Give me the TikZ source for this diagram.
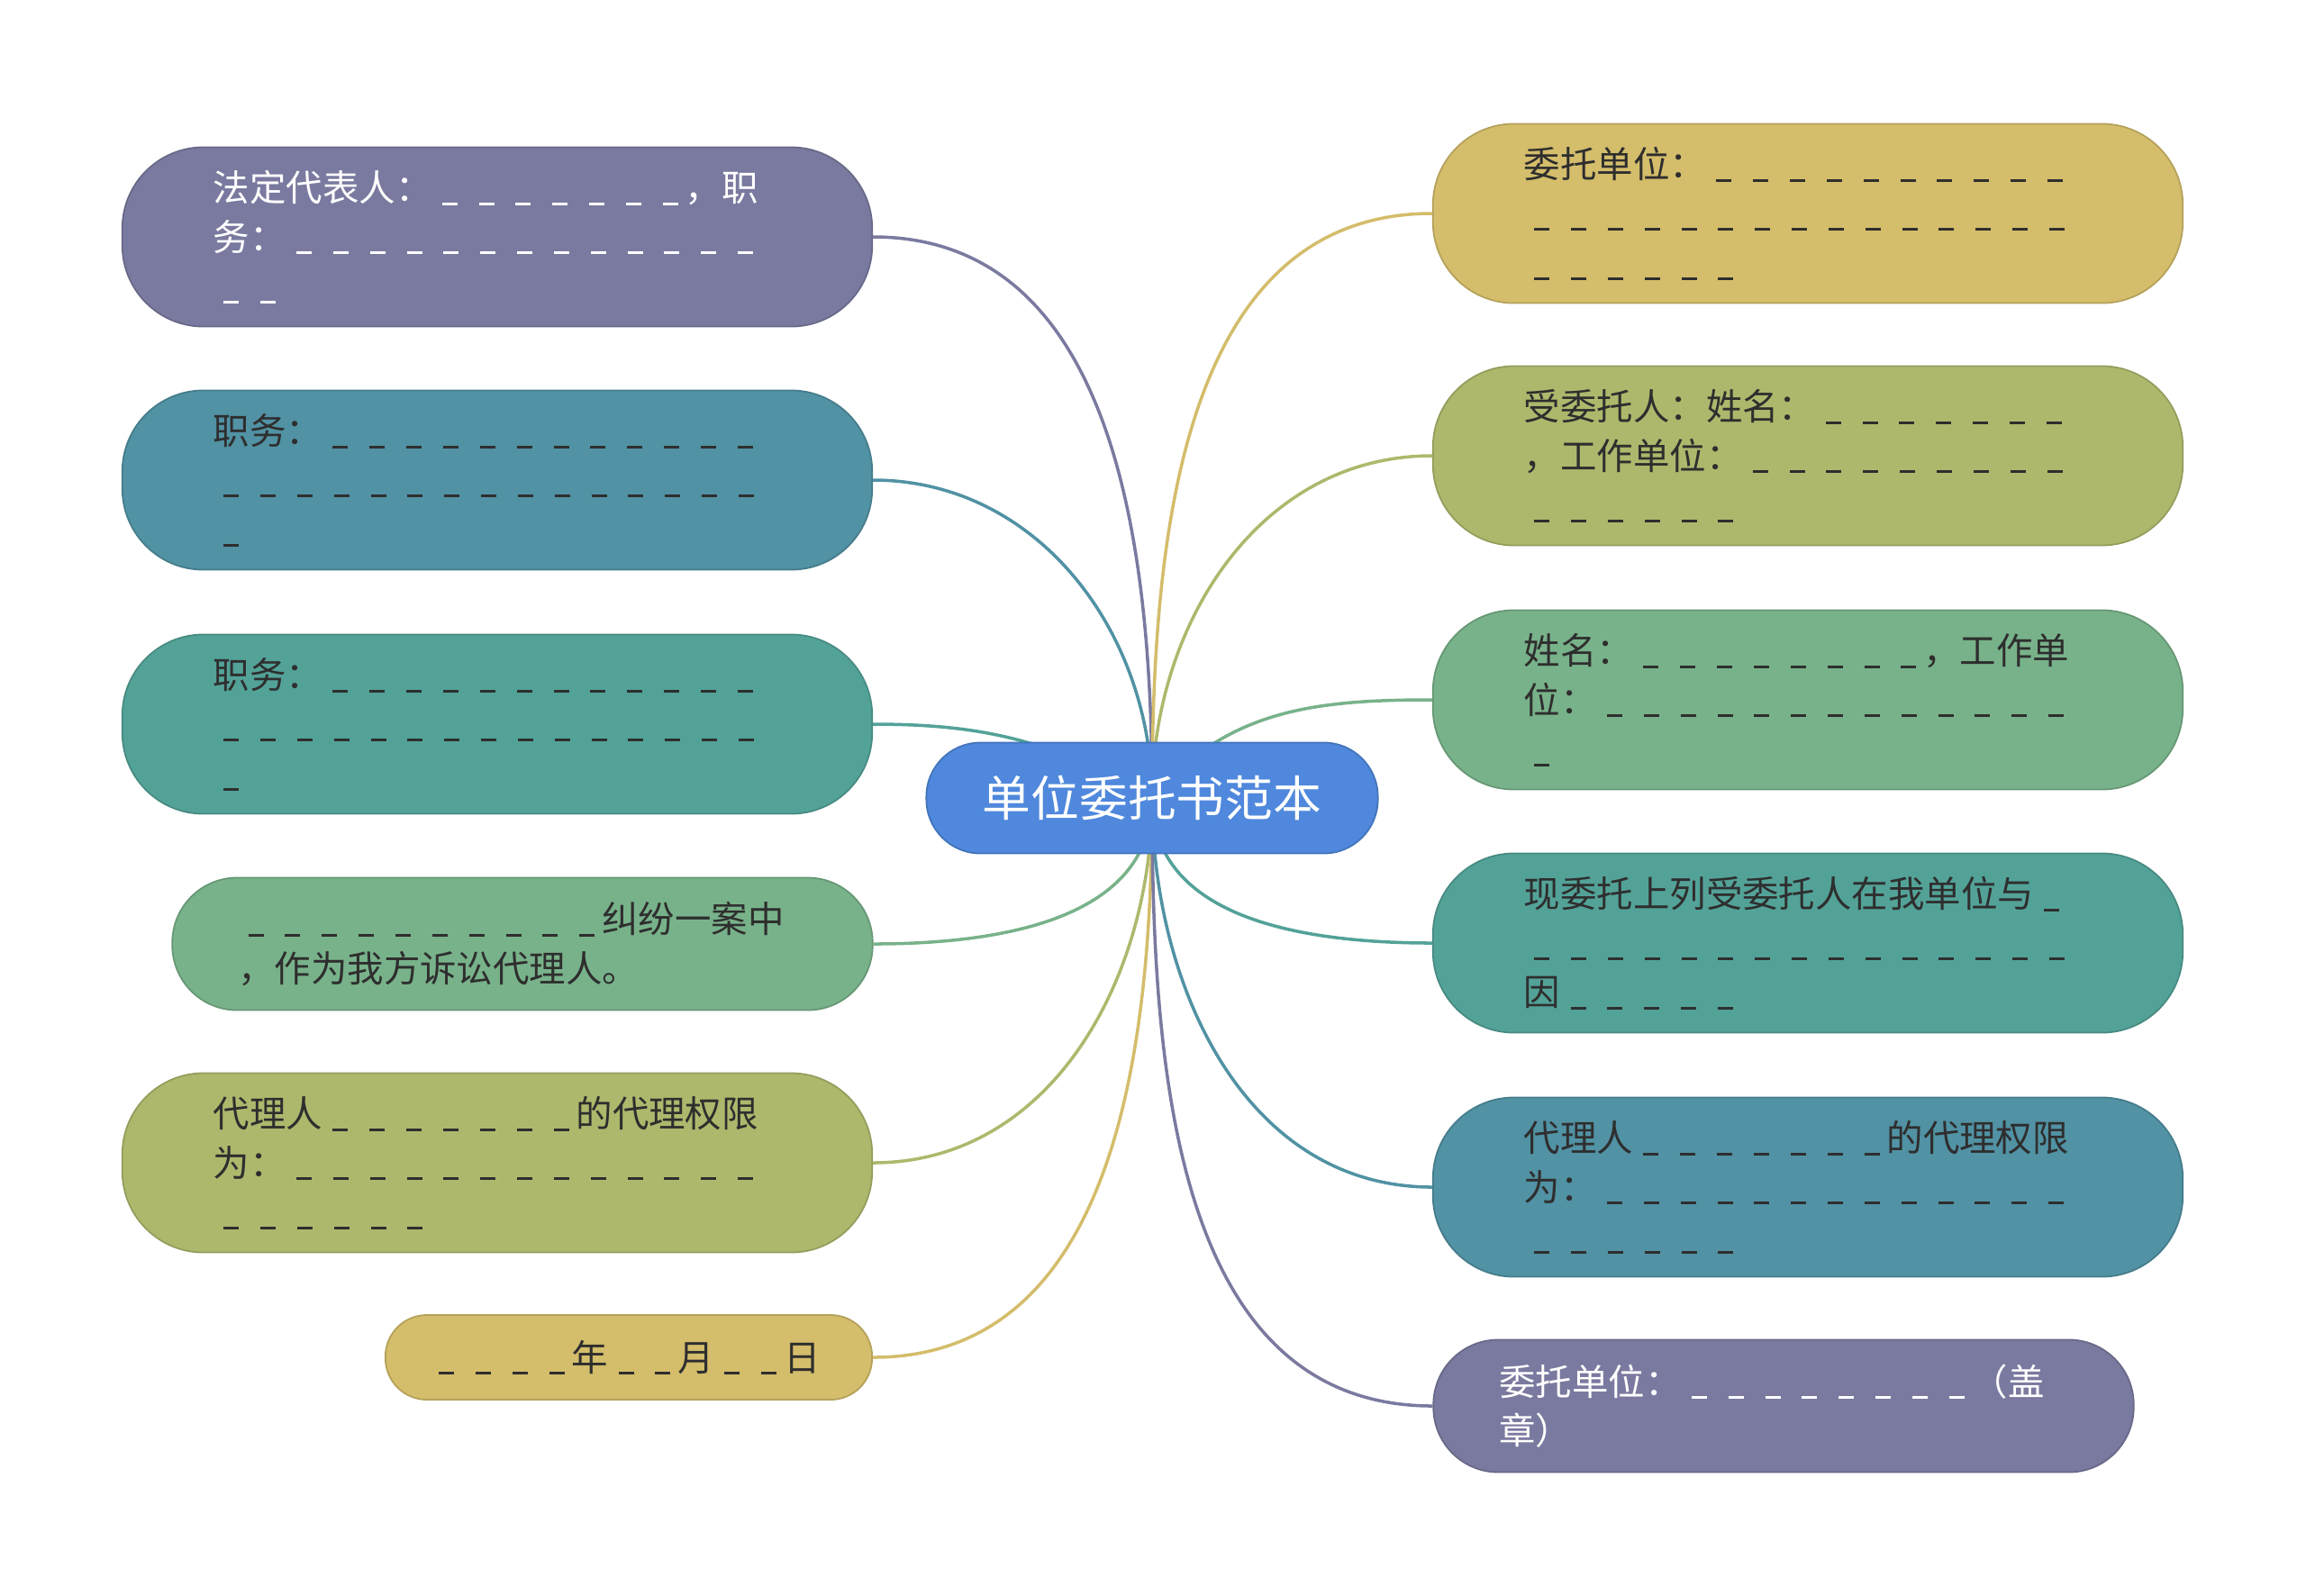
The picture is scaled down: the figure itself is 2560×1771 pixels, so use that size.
\documentclass[tikz,border=0pt]{standalone}
\usepackage{fontspec}
\setmainfont{Noto Sans CJK SC}
\usepackage{tikz}

\definecolor{purp}{HTML}{7A7AA0}
\definecolor{steel}{HTML}{5192A4}
\definecolor{teal}{HTML}{53A298}
\definecolor{leafgreen}{HTML}{78B28A}
\definecolor{olive}{HTML}{AEB86C}
\definecolor{gold}{HTML}{D4BD6B}
\definecolor{hubblue}{HTML}{4F88DC}
\definecolor{ink}{HTML}{2E2E2E}

\newcommand{\leaffont}{\fontsize{11.5pt}{15.5pt}\selectfont}
\newcommand{\blank}[1]{\leavevmode\foreach \dd in {1,...,#1}{\ifnum\dd>1 \kern0.11em\fi\hbox{\kern0.28em\rule[-0.1em]{0.42em}{0.07em}\kern0.2em}}}

\begin{document}
\begin{tikzpicture}[x=0.01cm, y=-0.01cm,
    leaf/.style={fill=#1, draw=#1!85!black, line width=0.5pt, rounded corners=0.9cm,
      minimum height=1.99cm, text width=6.3cm, inner xsep=1.01cm, inner ysep=0pt,
      align=left, text=ink, font=\leaffont},
    narrow/.style={text width=6.31cm, inner xsep=0.73cm, minimum height=1.47cm, rounded corners=0.72cm},
    link/.style={draw=#1, line width=1pt}]
  \useasboundingbox (0,0) rectangle (2560,1771);
  \coordinate (c) at (1279,886);

  \node[leaf=purp, text=white] (l1) at (552,263) {法定代表人：\blank{7}，职\\务：\blank{13}\\\blank{2}};
  \node[leaf=steel] (l2) at (552,533) {职务：\blank{12}\\\blank{15}\\\blank{1}};
  \node[leaf=teal] (l3) at (552,804) {职务：\blank{12}\\\blank{15}\\\blank{1}};
  \node[leaf=leafgreen, narrow] (l4) at (580,1048) {\blank{10}纠纷一案中\\，作为我方诉讼代理人。};
  \node[leaf=olive] (l5) at (552,1291) {代理人\blank{7}的代理权限\\为：\blank{13}\\\blank{6}};
  \node[leaf=gold, text width=4.44cm, inner xsep=0.48cm, minimum height=0.94cm, rounded corners=0.46cm] (l6) at (698,1507) {\blank{4}年\blank{2}月\blank{2}日};

  \node[leaf=gold] (r1) at (2007,237) {委托单位：\blank{10}\\\blank{15}\\\blank{6}};
  \node[leaf=olive] (r2) at (2007,506) {受委托人：姓名：\blank{7}\\，工作单位：\blank{9}\\\blank{6}};
  \node[leaf=leafgreen] (r3) at (2007,777) {姓名：\blank{8}，工作单\\位：\blank{13}\\\blank{1}};
  \node[leaf=teal] (r4) at (2007,1047) {现委托上列受委托人在我单位与\blank{1}\\\blank{15}\\因\blank{5}};
  \node[leaf=steel] (r5) at (2007,1318) {代理人\blank{7}的代理权限\\为：\blank{13}\\\blank{6}};
  \node[leaf=purp, narrow, text=white] (r6) at (1980,1561) {委托单位：\blank{8}（盖\\章）};

  \draw[link=purp] (l1.east) to[out=0,in=90] (c);
  \draw[link=steel] (l2.east) to[out=0,in=90] (c);
  \draw[link=teal] (l3.east) to[out=0,in=150] (c);
  \draw[link=leafgreen] (l4.east) to[out=0,in=-90] (c);
  \draw[link=olive] (l5.east) to[out=0,in=-90] (c);
  \draw[link=gold] (l6.east) to[out=0,in=-90] (c);
  \draw[link=gold] (c) to[out=90,in=180] (r1.west);
  \draw[link=olive] (c) to[out=90,in=180] (r2.west);
  \draw[link=leafgreen] (c) to[out=50,in=180] (r3.west);
  \draw[link=teal] (c) to[out=-90,in=180] (r4.west);
  \draw[link=steel] (c) to[out=-90,in=180] (r5.west);
  \draw[link=purp] (c) to[out=-90,in=180] (r6.west);

  \node[fill=hubblue, draw=hubblue!85!black, line width=0.5pt, rounded corners=0.6cm,
    minimum width=5.01cm, minimum height=1.23cm, text=white,
    font=\fontsize{15.3pt}{18pt}\selectfont] (hub) at (c) {单位委托书范本};
\end{tikzpicture}
\end{document}
